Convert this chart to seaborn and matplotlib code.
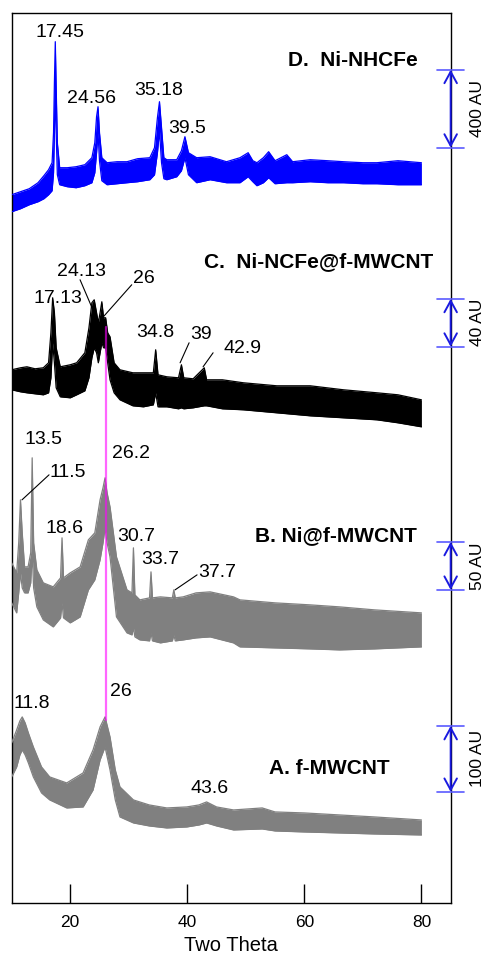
import matplotlib
matplotlib.use("Agg")
import matplotlib.pyplot as plt
import pandas as pd
import seaborn as sns

# ---------------- data (two-theta, lower / upper noise envelope, stacked a.u.) -------------
d_x = [10.0, 11.5, 13.0, 14.5, 15.5, 16.3, 16.9, 17.15, 17.3, 17.45, 17.6, 17.8, 18.2, 19.5, 21.0,
       22.5, 23.7, 24.2, 24.5, 24.75, 25.0, 25.4, 26.3, 28.0, 29.7, 31.5, 33.6, 34.4, 34.9, 35.25,
       35.6, 36.0, 36.5, 38.2, 39.0, 39.6, 40.2, 41.6, 43.9, 46.7, 49.0, 50.4, 51.2, 51.9, 53.0,
       53.9, 55.0, 57.0, 58.0, 61.0, 64.0, 66.7, 70.0, 72.4, 76.0, 80.0]
d_lo = [691, 694, 698, 701, 704, 708, 712, 730, 770, 815, 770, 728, 718, 716, 715,
        717, 720, 730, 750, 770, 742, 722, 718, 719, 720, 721, 723, 728, 750, 772,
        740, 724, 723, 726, 732, 745, 728, 720, 723, 720, 720, 726, 721, 717, 720,
        725, 719, 720, 720, 721, 720, 720, 719, 719, 718, 718]
d_hi = [708, 711, 714, 720, 727, 733, 740, 770, 820, 861, 815, 760, 735, 735, 736,
        738, 745, 760, 786, 796, 770, 745, 740, 741, 741, 744, 745, 755, 785, 801,
        775, 745, 743, 743, 752, 766, 750, 745, 746, 741, 745, 750, 742, 740, 745,
        751, 742, 748, 741, 743, 742, 741, 740, 740, 742, 740]

c_x = [10.0, 11.5, 12.6, 14.0, 15.4, 16.3, 16.7, 17.0, 17.3, 17.6, 18.3, 20.0, 21.1, 22.5, 23.2,
       23.7, 24.1, 24.5, 24.8, 25.1, 25.4, 25.7, 26.05, 26.4, 26.8, 27.5, 28.5, 30.7, 32.5, 34.2,
       34.6, 35.0, 36.5, 38.5, 39.0, 39.4, 41.0, 42.9, 43.3, 46.0, 49.6, 55.3, 61.0, 66.7, 72.4,
       76.0, 80.0]
c_lo = [513, 511, 510, 509, 508, 510, 525, 560, 540, 515, 506, 505, 508, 512, 525,
        545, 555, 550, 540, 550, 560, 555, 555, 540, 523, 510, 503, 497, 496, 498,
        510, 496, 496, 494, 495, 494, 495, 497, 497, 494, 493, 490, 487, 485, 483,
        480, 476]
c_hi = [533, 535, 536, 534, 535, 540, 570, 605, 590, 555, 536, 538, 540, 550, 575,
        600, 603, 590, 580, 590, 601, 585, 585, 570, 566, 540, 533, 530, 530, 530,
        553, 528, 526, 525, 538, 525, 524, 535, 523, 523, 520, 517, 517, 513, 510,
        508, 503]

b_x = [10.0, 10.85, 11.2, 11.5, 11.8, 12.2, 12.8, 13.25, 13.5, 13.75, 14.3, 15.4, 17.1, 18.35,
       18.6, 18.85, 20.0, 21.7, 23.1, 24.2, 25.1, 25.6, 25.95, 26.3, 26.8, 27.9, 29.7, 30.55,
       30.8, 31.05, 31.9, 33.55, 33.8, 34.05, 35.4, 37.45, 37.7, 37.95, 39.3, 41.5, 43.9, 47.9,
       49.0, 55.0, 61.0, 66.0, 72.0, 80.0]
b_lo = [300, 290, 310, 330, 315, 310, 310, 320, 350, 315, 296, 283, 276, 285,
        300, 285, 280, 286, 313, 323, 343, 360, 375, 360, 346, 286, 270, 268,
        275, 266, 263, 262, 270, 262, 260, 262, 268, 262, 263, 265, 266, 260,
        256, 255, 254, 253, 254, 256]
b_hi = [340, 330, 360, 403, 370, 336, 336, 350, 445, 360, 333, 320, 316, 325,
        365, 325, 330, 336, 363, 370, 403, 415, 425, 410, 396, 346, 313, 310,
        355, 308, 303, 305, 331, 305, 306, 305, 313, 305, 306, 310, 311, 306,
        303, 300, 298, 296, 293, 290]

a_x = [10.0, 10.85, 11.4, 11.8, 12.3, 12.85, 13.7, 15.1, 16.5, 19.4, 22.2, 23.9, 25.1, 25.95,
       26.8, 27.7, 28.5, 30.8, 33.5, 36.5, 39.9, 42.0, 43.3, 45.0, 47.9, 52.8, 55.0, 60.0,
       66.0, 72.0, 80.0]
a_lo = [126, 136, 148, 153, 148, 140, 126, 110, 103, 95, 96, 113, 143, 156,
        133, 103, 86, 80, 77, 75, 76, 78, 80, 77, 73, 74, 72, 71, 70, 69, 68]
a_hi = [160, 173, 182, 186, 180, 170, 156, 136, 126, 120, 130, 153, 176, 186,
        166, 133, 116, 103, 98, 95, 96, 98, 101, 96, 93, 95, 91, 90, 88, 86, 83]

sample_names = ["D.  Ni-NHCFe", "C.  Ni-NCFe@f-MWCNT", "B. Ni@f-MWCNT", "A. f-MWCNT"]
sample_colors = ["#0000ff", "#000000", "#808080", "#808080"]
name_x = [79.45, 82.0, 79.2, 74.5]
name_y = [842, 641, 367, 134]

# peak labels: text, x, y
peak_text = ["17.45", "24.56", "35.18", "39.5",
             "17.13", "24.13", "26", "34.8", "39", "42.9",
             "13.5", "11.5", "26.2", "18.6", "30.7", "33.7", "37.7",
             "11.8", "26", "43.6"]
peak_tx = [18.26, 23.56, 35.18, 39.97,
           17.91, 21.85, 32.6, 34.5, 42.36, 49.37,
           15.35, 19.62, 30.39, 18.94, 31.25, 35.35, 45.09,
           13.47, 28.68, 43.73]
peak_ty = [870, 804, 812, 774,
           604, 631, 624, 570, 568, 554,
           463, 430, 449, 374, 366, 343, 330,
           199, 211, 114]

# leader lines: (x0, y0, x1, y1)
leaders = [(21.68, 623, 24.24, 588), (30.51, 618, 25.66, 586), (40.31, 560, 38.77, 540),
           (44.41, 550, 42.70, 536), (16.38, 428, 11.76, 403), (41.67, 328, 37.91, 313)]

# scale bars: AU value, bottom, top (stacked units)
bar_au = [400, 40, 50, 100]
bar_bottom = [755, 556, 313, 111]
bar_top = [833, 604, 361, 177]

ref_line_x = 26.05
ref_line_y = (183, 576)

# ---------------- plotting ----------------
sns.set_theme(style="white")
plt.rcParams["font.family"] = ["Liberation Sans", "DejaVu Sans"]

fig = plt.figure(figsize=(4.87, 9.6), dpi=100)
ax = fig.add_axes([0.024, 0.0594, 0.9014, 0.9274])

traces = [(d_x, d_lo, d_hi), (c_x, c_lo, c_hi), (b_x, b_lo, b_hi), (a_x, a_lo, a_hi)]
for (xs, lo, hi), col in zip(traces, sample_colors):
    ax.fill_between(xs, lo, hi, color=col, lw=0, zorder=2)
    df = pd.DataFrame({"x": xs + xs, "y": lo + hi,
                       "edge": ["lo"] * len(xs) + ["hi"] * len(xs)})
    sns.lineplot(data=df, x="x", y="y", units="edge", estimator=None, sort=False,
                 color=col, lw=0.9, ax=ax, zorder=3)

ax.plot([ref_line_x, ref_line_x], ref_line_y, color="#ff00ff", alpha=0.6, lw=1.6, zorder=4)

for name, nx, ny in zip(sample_names, name_x, name_y):
    ax.text(nx, ny, name, ha="right", va="center", fontsize=15, fontweight="bold", color="black")

for t, tx, ty in zip(peak_text, peak_tx, peak_ty):
    ax.text(tx, ty, t, ha="center", va="center", fontsize=14, color="black", zorder=5)

for x0, y0, x1, y1 in leaders:
    ax.plot([x0, x1], [y0, y1], color="black", lw=0.8, zorder=5)

for au, b, t in zip(bar_au, bar_bottom, bar_top):
    ax.annotate("", xy=(85, t), xytext=(85, b),
                arrowprops=dict(arrowstyle="<->,head_length=0.55,head_width=0.3",
                                color="#1a1ae0", lw=1.4, mutation_scale=15,
                                shrinkA=0, shrinkB=0),
                annotation_clip=False, zorder=6)
    for yy in (b, t):
        ax.plot([82.65, 87.35], [yy, yy], color="#5a5aff", lw=1.2, clip_on=False, zorder=6)
    ax.text(89.6, (b + t) / 2, f"{au} AU", rotation=90, ha="center", va="center",
            fontsize=12.5, color="black")

ax.set_xlim(10, 85)
ax.set_ylim(0, 890)
ax.set_xticks([20, 40, 60, 80])
ax.set_yticks([])
ax.set_ylabel("")
ax.set_xlabel("Two Theta", fontsize=14.5, labelpad=4, color="black")
ax.tick_params(axis="x", direction="in", length=14, width=1, pad=9, labelsize=12.5,
               colors="black", bottom=True, top=False)
for s in ax.spines.values():
    s.set_color("black")
    s.set_linewidth(1.0)
    s.set_visible(True)

fig.savefig("out.png", dpi=100)
